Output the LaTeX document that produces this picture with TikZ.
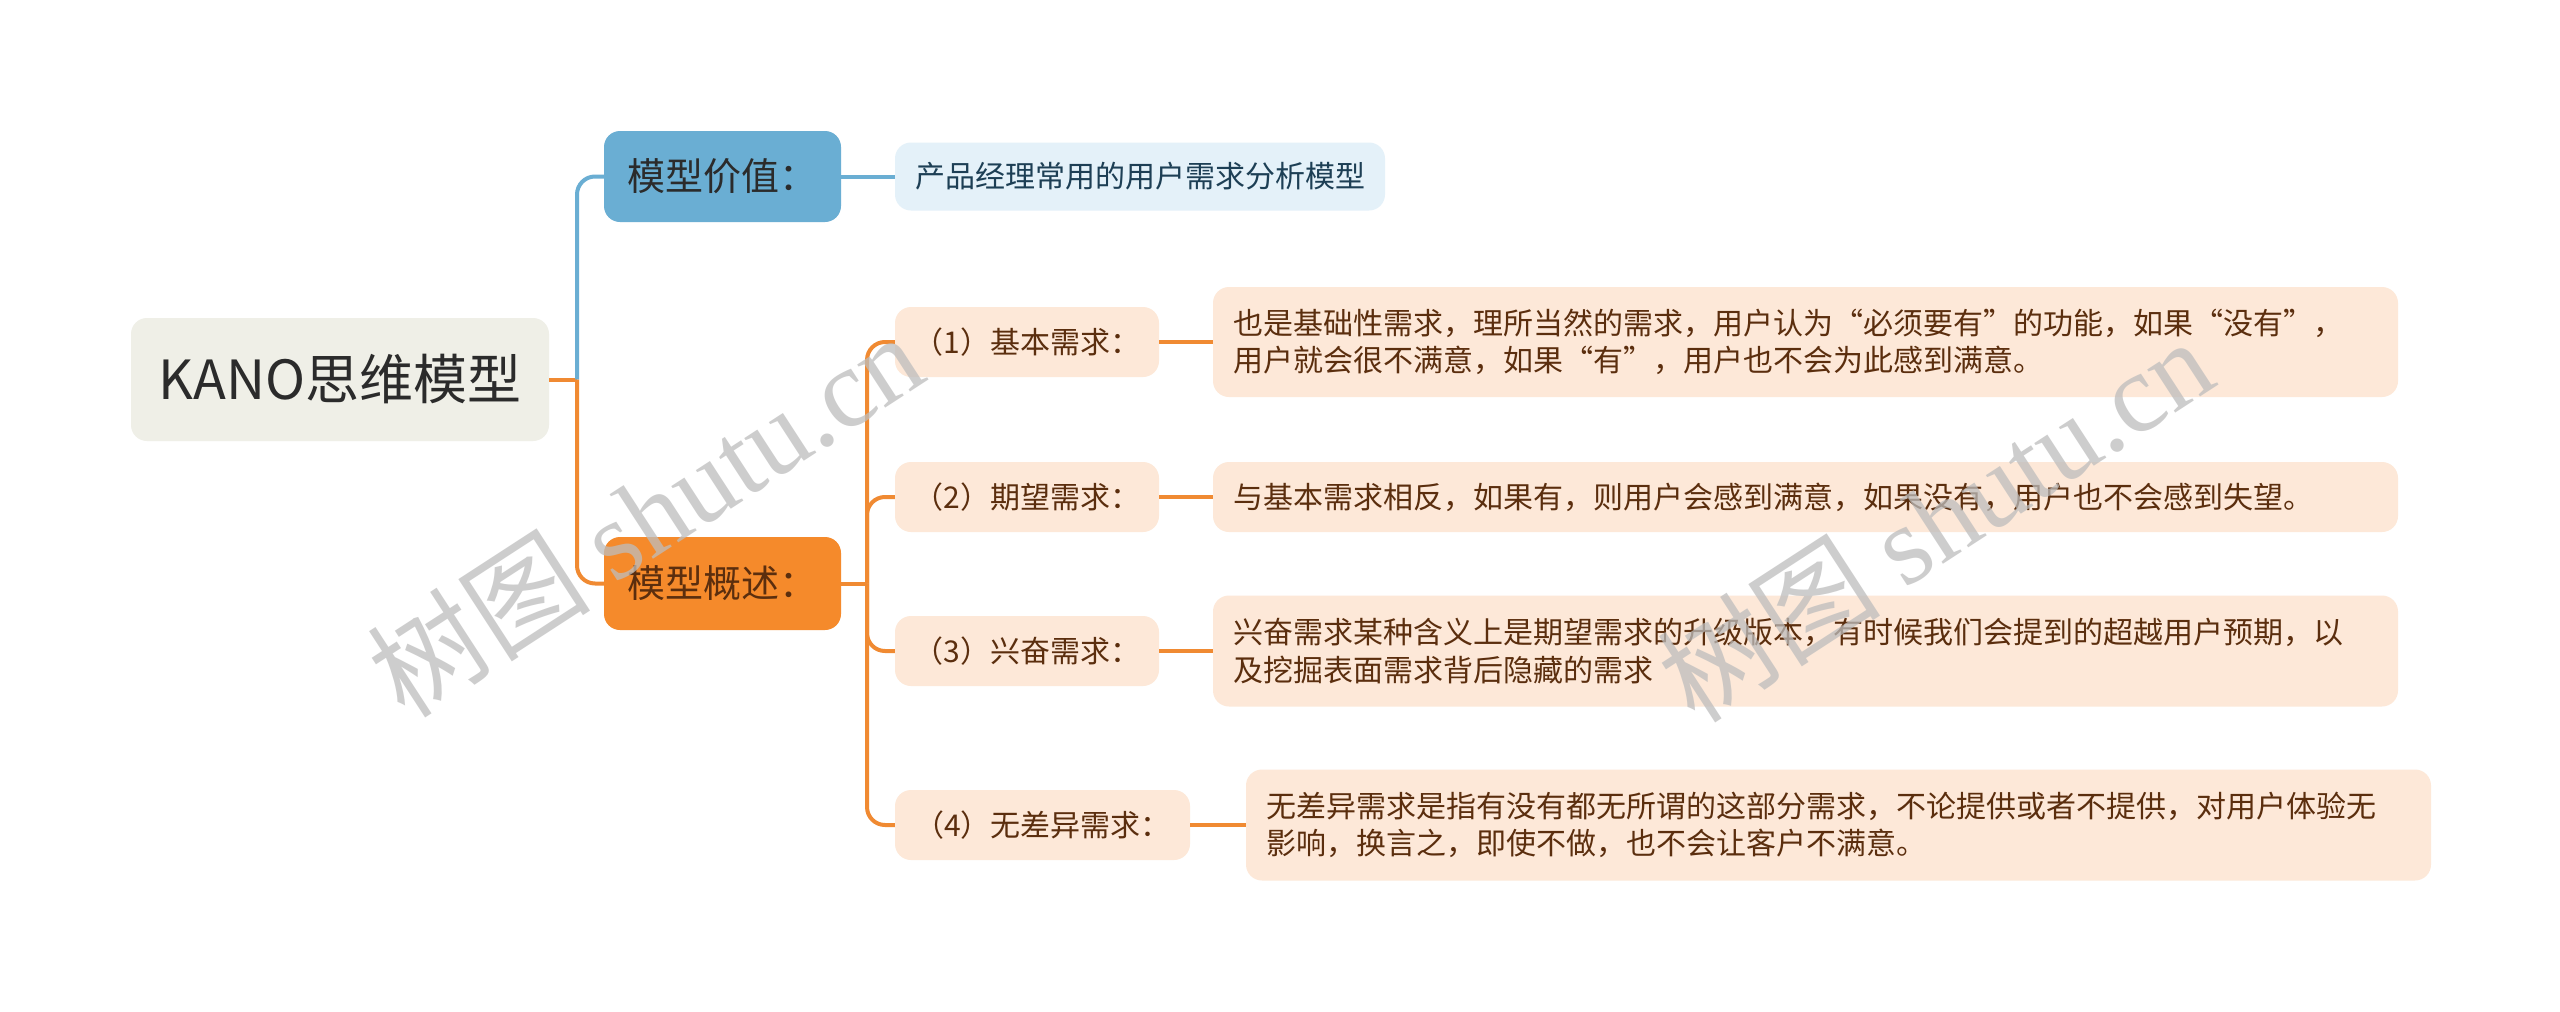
\documentclass[tikz,border=0pt]{standalone}
\usepackage{fontspec}
\setmainfont{Noto Sans CJK SC}
\newfontfamily\wmserif{Liberation Serif}
\newfontfamily\wmcjk{Noto Sans CJK SC}
\definecolor{rootfill}{HTML}{EFEFE7}
\definecolor{bluefill}{HTML}{6AAED3}
\definecolor{lightblue}{HTML}{E4F1F9}
\definecolor{orangefill}{HTML}{F58A2B}
\definecolor{peach}{HTML}{FDE8D8}
\definecolor{blueline}{HTML}{6AAED3}
\definecolor{orangeline}{HTML}{F08A32}
\definecolor{browntext}{HTML}{5B2E0E}
\definecolor{darktext}{HTML}{2B2B2B}
\definecolor{bluetext}{HTML}{1D3F55}
\definecolor{wmgray}{HTML}{BDBDBD}
\tikzset{
  box/.style={rounded corners=16pt, inner sep=0pt, align=center},
  rootbox/.style={box, fill=rootfill, minimum width=418pt, minimum height=123pt,
    font=\fontsize{54}{60}\selectfont, text=darktext},
  bluebox/.style={box, fill=bluefill, minimum width=237pt, minimum height=91pt,
    font=\fontsize{38}{44}\selectfont, text=darktext},
  orangebox/.style={box, fill=orangefill, minimum width=237pt, minimum height=93pt,
    font=\fontsize{38}{44}\selectfont, text=browntext},
  lbluebox/.style={box, fill=lightblue, minimum width=490pt, minimum height=68pt,
    font=\fontsize{30}{37}\selectfont, text=bluetext},
  childbox/.style={box, fill=peach, minimum height=70pt,
    font=\fontsize{30}{37}\selectfont, text=browntext},
  descbox/.style={rounded corners=16pt, fill=peach, inner xsep=20pt, inner ysep=0pt,
    text width=1145pt, align=left, minimum height=70pt,
    font=\fontsize{30}{37.5}\selectfont, text=browntext},
  bline/.style={draw=blueline, line width=4pt},
  oline/.style={draw=orangeline, line width=4pt},
  wmark/.style={rotate=33, text=wmgray, opacity=0.75, inner sep=0pt}
}
\begin{document}
\begin{tikzpicture}[x=1pt,y=-1pt]
\path[use as bounding box, fill=white] (0,0) rectangle (2560,1012);

\node[rootbox] (root) at (340,379.5) {KANO思维模型};
\node[bluebox] (val) at (722.5,176.5) {模型价值：};
\node[lbluebox] (valdesc) at (1140,176.5) {产品经理常用的用户需求分析模型};
\node[orangebox] (ovw) at (722.5,583.5) {模型概述：};

\node[childbox, minimum width=264pt] (c1) at (1027,342) {（1）基本需求：};
\node[childbox, minimum width=264pt] (c2) at (1027,497) {（2）期望需求：};
\node[childbox, minimum width=264pt] (c3) at (1027,651) {（3）兴奋需求：};
\node[childbox, minimum width=295pt] (c4) at (1042.5,825) {（4）无差异需求：};

\node[descbox, minimum height=110pt] (d1) at (1805.5,342) {也是基础性需求，理所当然的需求，用户认为“必须要有”的功能，如果“没有”，\\用户就会很不满意，如果“有”，用户也不会为此感到满意。};
\node[descbox, minimum height=70pt] (d2) at (1805.5,497) {与基本需求相反，如果有，则用户会感到满意，如果没有，用户也不会感到失望。};
\node[descbox, minimum height=111pt] (d3) at (1805.5,651) {兴奋需求某种含义上是期望需求的升级版本，有时候我们会提到的超越用户预期，以\\及挖掘表面需求背后隐藏的需求};
\node[descbox, minimum height=111pt] (d4) at (1838.5,825) {无差异需求是指有没有都无所谓的这部分需求，不论提供或者不提供，对用户体验无\\影响，换言之，即使不做，也不会让客户不满意。};

\coordinate (j1) at (577,379.5);
\coordinate (j2) at (867,583.5);

\draw[oline] (root.east) -- (j1);
\draw[bline, rounded corners=18pt] (j1) |- (val.west);
\draw[oline, rounded corners=18pt] (j1) |- (ovw.west);
\draw[bline] (val.east) -- (valdesc.west);

\draw[oline] (ovw.east) -- (j2);
\foreach \c in {c1,c2,c3,c4}{
  \draw[oline, rounded corners=18pt] (j2) |- (\c.west);
}
\draw[oline] (c1.east) -- (d1.west);
\draw[oline] (c2.east) -- (d2.west);
\draw[oline] (c3.east) -- (d3.west);
\draw[oline] (c4.east) -- (d4.west);

\node[wmark] (wm1) at (645,514) {\fontsize{112}{118}\selectfont\wmcjk 树图 \wmserif shutu.cn};
\node[wmark] (wm2) at (1935,519) {\fontsize{112}{118}\selectfont\wmcjk 树图 \wmserif shutu.cn};
\end{tikzpicture}
\end{document}
